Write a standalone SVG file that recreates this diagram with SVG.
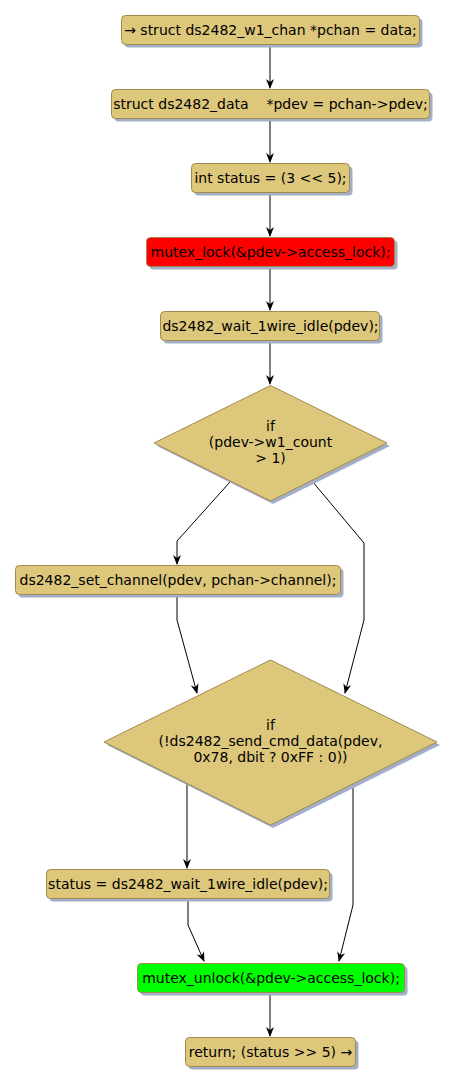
<svg xmlns="http://www.w3.org/2000/svg" width="455" height="1086" viewBox="0 0 455 1086">
<style>
.box{fill:#DDC77B;stroke:#A08A4E;stroke-width:1}
.sh{fill:#A3AEC8}
.red{fill:#FF0000}
.green{fill:#00FF00}
text{font-family:"DejaVu Sans",sans-serif;font-size:14px;fill:#000;text-anchor:middle}
.ln{fill:none;stroke:#000;stroke-width:1}
</style>
<defs>
<marker id="ah" markerWidth="10" markerHeight="10" refX="9" refY="5" orient="auto" markerUnits="userSpaceOnUse">
<path d="M0,1 L10,5 L0,9 L3,5 Z" fill="#000"/>
</marker>
</defs>
<rect width="455" height="1086" fill="#fff"/>
<g id="connectors">
<line class="ln" x1="270" y1="45" x2="270" y2="88" marker-end="url(#ah)"/>
<line class="ln" x1="270" y1="119" x2="270" y2="162" marker-end="url(#ah)"/>
<line class="ln" x1="270" y1="192" x2="270" y2="236" marker-end="url(#ah)"/>
<line class="ln" x1="270" y1="267" x2="270" y2="310" marker-end="url(#ah)"/>
<line class="ln" x1="270" y1="341" x2="270" y2="384" marker-end="url(#ah)"/>
<polyline class="ln" points="230,482 177,541 177,564" marker-end="url(#ah)"/>
<polyline class="ln" points="312,481 364,543 364,620 345,693" marker-end="url(#ah)"/>
<polyline class="ln" points="177,595 177,620 197,693" marker-end="url(#ah)"/>
<polyline class="ln" points="187,783 187,868" marker-end="url(#ah)"/>
<polyline class="ln" points="353,783 353,905 339,961" marker-end="url(#ah)"/>
<polyline class="ln" points="188,899 188,925 204,961" marker-end="url(#ah)"/>
<line class="ln" x1="270" y1="993" x2="270" y2="1036" marker-end="url(#ah)"/>
</g>
<g id="n1">
<rect class="sh" x="124.5" y="18.5" width="298" height="29" rx="4"/>
<rect class="box" x="121.5" y="15.5" width="298" height="29" rx="4"/>
<text x="270.5" y="35">→ struct ds2482_w1_chan *pchan = data;</text>
</g>
<g id="n2">
<rect class="sh" x="114.5" y="92.5" width="318" height="29" rx="4"/>
<rect class="box" x="111.5" y="89.5" width="318" height="29" rx="4"/>
<text x="270.5" y="109" xml:space="preserve">struct ds2482_data    *pdev = pchan-&gt;pdev;</text>
</g>
<g id="n3">
<rect class="sh" x="194.5" y="166.5" width="158" height="29" rx="4"/>
<rect class="box" x="191.5" y="163.5" width="158" height="29" rx="4"/>
<text x="270.5" y="183">int status = (3 &lt;&lt; 5);</text>
</g>
<g id="n4">
<rect class="sh" x="149.5" y="240.5" width="248" height="29" rx="4"/>
<rect class="box red" x="146.5" y="237.5" width="248" height="29" rx="4"/>
<text x="270.5" y="257">mutex_lock(&amp;pdev-&gt;access_lock);</text>
</g>
<g id="n5">
<rect class="sh" x="163.5" y="314.5" width="219" height="29" rx="4"/>
<rect class="box" x="160.5" y="311.5" width="219" height="29" rx="4"/>
<text x="270.5" y="331">ds2482_wait_1wire_idle(pdev);</text>
</g>
<g id="d1">
<polygon class="sh" points="273,388 390,446 273,504 157,446"/>
<polygon class="box" points="270.5,385.5 387,443 270.5,501 154,443"/>
<text x="270.5" y="431">if</text>
<text x="270.5" y="447">(pdev-&gt;w1_count</text>
<text x="270.5" y="463">&gt; 1)</text>
</g>
<g id="n6">
<rect class="sh" x="18.5" y="568.5" width="325" height="29" rx="4"/>
<rect class="box" x="15.5" y="565.5" width="325" height="29" rx="4"/>
<text x="178" y="585">ds2482_set_channel(pdev, pchan-&gt;channel);</text>
</g>
<g id="d2">
<polygon class="sh" points="273,663 440,745 273,828 107,745"/>
<polygon class="box" points="270.5,660 437,742 270.5,825 104,742"/>
<text x="270.5" y="730">if</text>
<text x="270.5" y="746">(!ds2482_send_cmd_data(pdev,</text>
<text x="270.5" y="762">0x78, dbit ? 0xFF : 0))</text>
</g>
<g id="n7">
<rect class="sh" x="49.5" y="872.5" width="283" height="29" rx="4"/>
<rect class="box" x="46.5" y="869.5" width="283" height="29" rx="4"/>
<text x="188" y="889">status = ds2482_wait_1wire_idle(pdev);</text>
</g>
<g id="n8">
<rect class="sh" x="140.5" y="966.5" width="267" height="29" rx="4"/>
<rect class="box green" x="137.5" y="963.5" width="267" height="29" rx="4"/>
<text x="271" y="983">mutex_unlock(&amp;pdev-&gt;access_lock);</text>
</g>
<g id="n9">
<rect class="sh" x="188.5" y="1040.5" width="170" height="29" rx="4"/>
<rect class="box" x="185.5" y="1037.5" width="170" height="29" rx="4"/>
<text x="270.5" y="1057">return; (status &gt;&gt; 5) →</text>
</g>
</svg>
